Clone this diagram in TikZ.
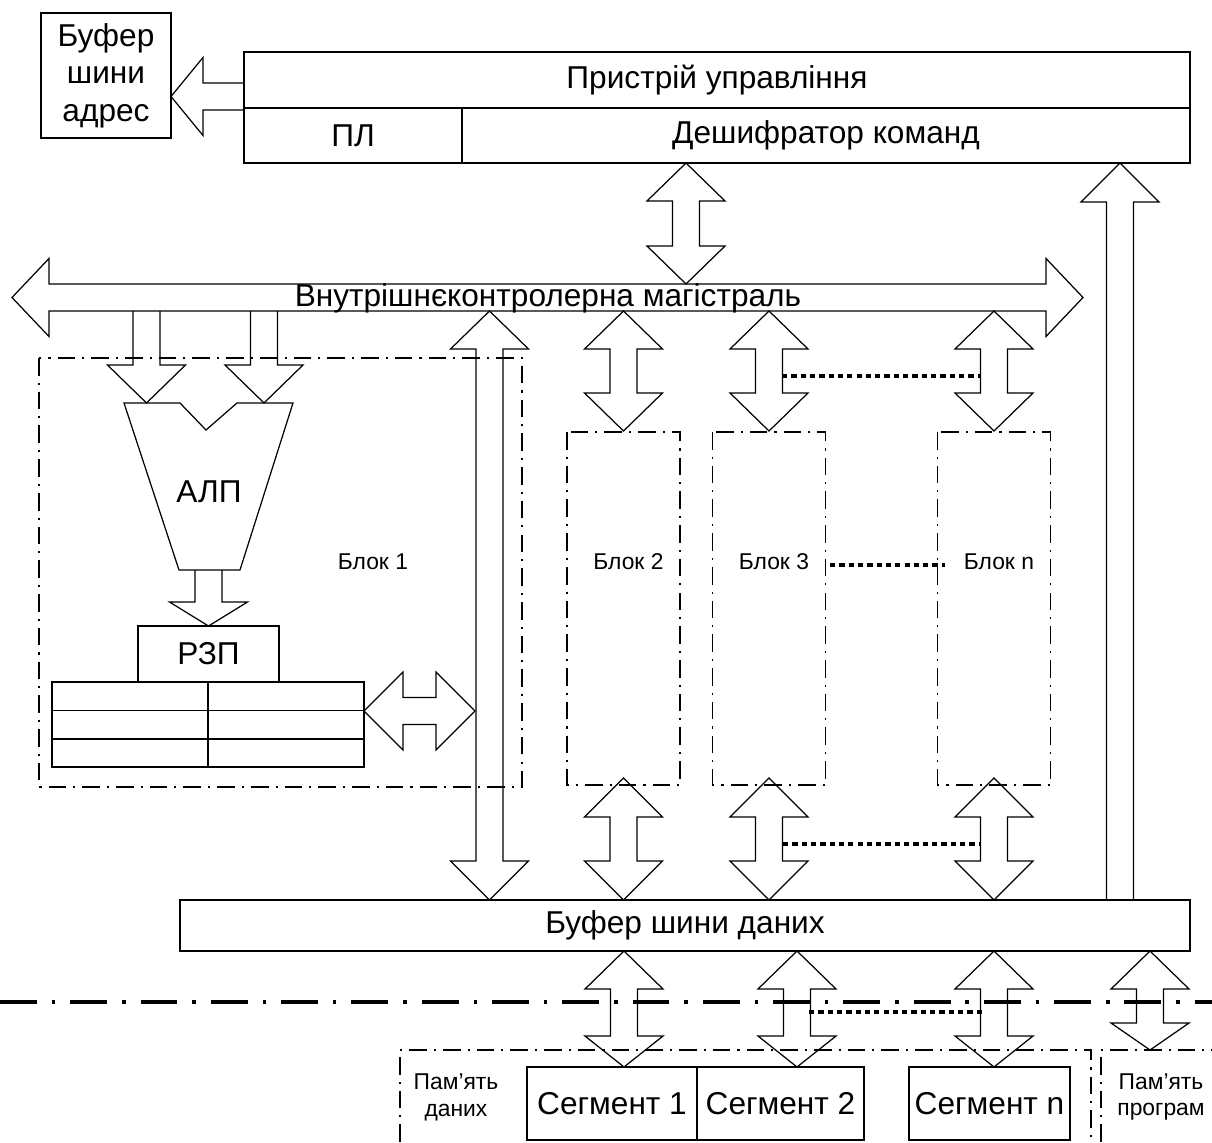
\documentclass[tikz,border=0pt]{standalone}
\usepackage{fontspec}
\setmainfont{Liberation Sans}
\usetikzlibrary{positioning}

% fat outline arrows: vertical double, horizontal double, down, up, left
\newcommand{\fatvv}[5]{% x, top tip, bottom tip, top head, bottom head
  \draw[fat] (#1,#2) -- (#1+39,#2+#4) -- (#1+13.5,#2+#4) -- (#1+13.5,#3-#5) -- (#1+39,#3-#5)
    -- (#1,#3) -- (#1-39,#3-#5) -- (#1-13.5,#3-#5) -- (#1-13.5,#2+#4) -- (#1-39,#2+#4) -- cycle;}
\newcommand{\fathh}[4][38]{% y, left tip, right tip
  \draw[fat] (#3,#2) -- (#3+#1,#2-39) -- (#3+#1,#2-13.5) -- (#4-#1,#2-13.5) -- (#4-#1,#2-39)
    -- (#4,#2) -- (#4-#1,#2+39) -- (#4-#1,#2+13.5) -- (#3+#1,#2+13.5) -- (#3+#1,#2+39) -- cycle;}
\newcommand{\fatdown}[4][38]{% x, tail, tip
  \draw[fat] (#2-13.5,#3) -- (#2-13.5,#4-#1) -- (#2-39,#4-#1) -- (#2,#4) -- (#2+39,#4-#1)
    -- (#2+13.5,#4-#1) -- (#2+13.5,#3);}
\newcommand{\fatup}[4][38]{% x, tail, tip
  \draw[fat] (#2-13.5,#3) -- (#2-13.5,#4+#1) -- (#2-39,#4+#1) -- (#2,#4) -- (#2+39,#4+#1)
    -- (#2+13.5,#4+#1) -- (#2+13.5,#3);}
\newcommand{\fatleft}[4][38]{% y, tail, tip
  \draw[fat] (#3,#2-13.5) -- (#4+#1,#2-13.5) -- (#4+#1,#2-39) -- (#4,#2) -- (#4+#1,#2+39)
    -- (#4+#1,#2+13.5) -- (#3,#2+13.5);}

\begin{document}
\begin{tikzpicture}[x=0.02cm,y=-0.02cm,line width=0.7pt,
  box/.style={draw,rectangle,inner sep=0pt,outer sep=0pt,align=center,
              font=\fontsize{18}{21.3}\selectfont},
  lbl/.style={inner sep=0pt,align=center,font=\fontsize{18}{21.3}\selectfont},
  slbl/.style={inner sep=0pt,align=center,font=\fontsize{13}{15.3}\selectfont},
  fat/.style={draw,line width=0.7pt,line join=miter},
  frame/.style={line width=1.1pt,dash pattern=on 10pt off 4pt on 1.2pt off 4pt},
  sepline/.style={line width=2.4pt,dash pattern=on 21pt off 8.5pt on 2pt off 8.5pt},
  dots/.style={line width=2.8pt,dash pattern=on 3pt off 2.3pt}
]
\useasboundingbox (0,0) rectangle (1212,1142);

% control unit and address buffer
\node[box,minimum width=2.6cm,minimum height=2.5cm] (abuf) at (106,75.5) {Буфер\\шини\\адрес};
\node[box,minimum width=18.92cm,minimum height=2.22cm] (cu) at (717,107.5) {};
\draw (244,108) -- (1190,108);
\draw (462,108) -- (462,163);
\node[lbl] (cutxt) at (717,80) {Пристрій управління};
\node[lbl] (pl) at (353,135.5) {ПЛ};
\node[lbl] (dec) at (826,135.5) {Дешифратор команд};
\fatleft[32]{96.5}{244}{171}

% internal bus
\fatvv{686}{163}{284}{38}{38}
\fathh[37]{297.5}{12}{1083}
\node[lbl] (bus) at (548,298) {Внутрішнєконтролерна магістраль};
\fatup[39]{1120}{900}{163}

% block 1
\draw[frame] (39,358) rectangle (522,787);
\node[slbl] (b1) at (373,562) {Блок 1};
\fatdown{146.5}{311}{403}
\fatdown{264}{311}{403}
\draw (124,403) -- (180,403) -- (206,430) -- (237,403) -- (293,403) -- (240,570) -- (179,570) -- cycle;
\node[lbl] (alu) at (209,492) {АЛП};
\fatdown[24]{208.5}{570}{626}
\node[box,minimum width=2.82cm,minimum height=1.12cm] (rzp) at (208.5,654) {РЗП};
\draw (52,682) rectangle (364,767);
\draw (52,710.5) -- (364,710.5) (52,739) -- (364,739) (208,682) -- (208,767);
\fathh[39]{711}{364}{475}
\fatvv{489.5}{311}{900}{38}{39}

% blocks 2..n
\foreach \x/\n in {623.5/2,769/3,994/n}{
  \draw[frame] (\x-56.5,432) rectangle (\x+56.5,785);
  \node[slbl] (b\n) at (\x+5,562) {Блок \n};
  \fatvv{\x}{311}{431}{38}{38}
  \fatvv{\x}{778}{900}{39}{39}
}
\draw[dots] (782,376) -- (980,376);
\draw[dots] (830,565) -- (945,565);
\draw[dots] (783,844) -- (981,844);

% data bus buffer and memory
\node[box,minimum width=20.2cm,minimum height=1.02cm] (dbuf) at (685,925.5) {Буфер шини даних};
\draw[sepline] (0,1002) -- (1212,1002);
\fatvv{624}{951}{1067}{38}{31}
\fatvv{797}{951}{1067}{38}{31}
\fatvv{994}{951}{1067}{38}{31}
\fatvv{1150}{951}{1050}{38}{27}
\draw[dots] (809,1012) -- (982,1012);
\draw[frame,line width=0.8pt] (400,1142) -- (400,1050) -- (1091,1050) -- (1091,1142);
\draw[frame,line width=0.8pt] (1101,1142) -- (1101,1050) -- (1212,1050);
\node[slbl] (dmem) at (456,1097) {Пам’ять\\даних};
\node[slbl] (pmem) at (1161,1097) {Пам’ять\\програм};
\node[box,minimum width=3.4cm,minimum height=1.46cm] (seg1) at (612,1103.5) {Сегмент 1};
\node[box,minimum width=3.34cm,minimum height=1.46cm,right=0pt of seg1] (seg2) {Сегмент 2};
\node[box,minimum width=3.22cm,minimum height=1.46cm] (segn) at (989.5,1103.5) {Сегмент n};
\end{tikzpicture}
\end{document}
